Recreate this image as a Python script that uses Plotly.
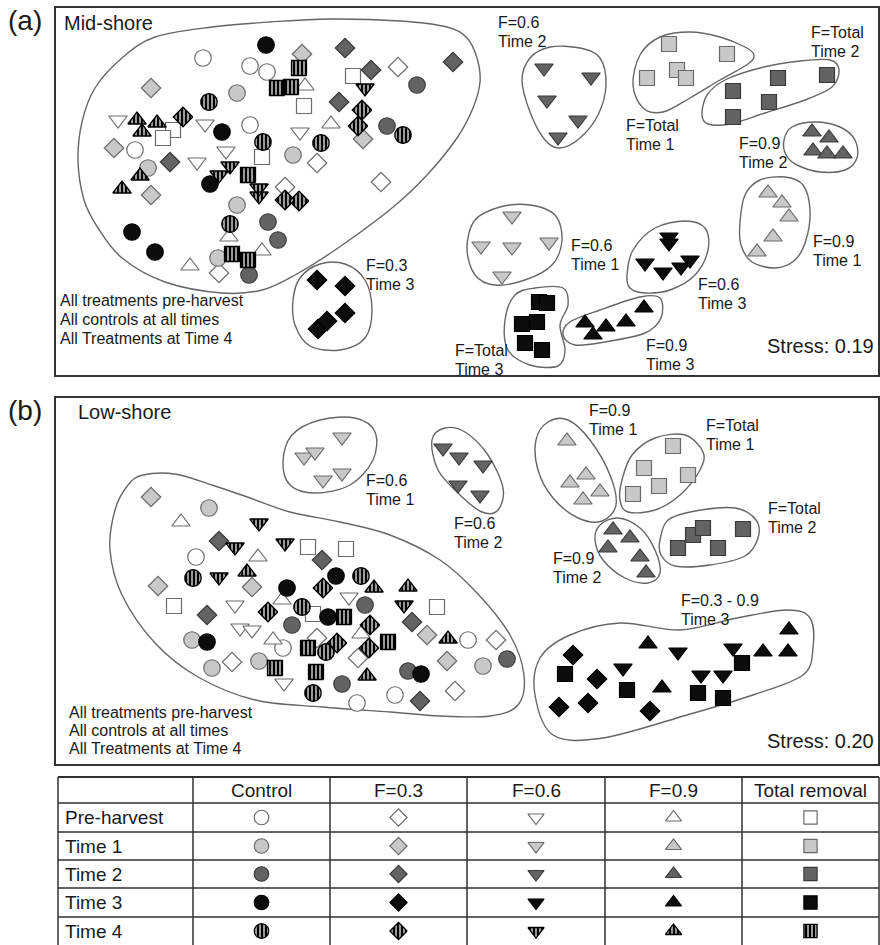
import math
import plotly.graph_objects as go

# ---------------------------------------------------------------------------
# nMDS ordination scores (arbitrary units; axis 2 increases downwards)
# entries: (treatment code, axis-1 score, axis-2 score)
# treatment codes: C = control, F3/F6/F9 = harvest F=0.3/0.6/0.9, FT = total removal
# ---------------------------------------------------------------------------

# (a) Mid-shore
MID_PRE = [
    ("C", 203, 58), ("C", 250, 66), ("C", 267, 72), ("C", 250, 125), ("C", 135, 150),
    ("F3", 398, 67), ("F3", 317, 163), ("F3", 381, 182), ("F3", 285, 187), ("F3", 219, 273),
    ("F6", 118, 120), ("F6", 205, 124), ("F6", 226, 151), ("F6", 197, 162), ("F6", 300, 132),
    ("F9", 305, 86), ("F9", 331, 124), ("F9", 229, 237), ("F9", 190, 266), ("F9", 262, 251),
    ("FT", 173, 130), ("FT", 163, 138), ("FT", 262, 157), ("FT", 304, 106), ("FT", 353, 76),
]
MID_T1 = [
    ("C", 237, 93), ("C", 148, 168), ("C", 293, 155), ("C", 237, 205), ("C", 218, 258),
    ("F3", 151, 88), ("F3", 114, 148), ("F3", 151, 195), ("F3", 302, 54), ("F3", 363, 139),
    ("F6", 512, 216), ("F6", 481, 246), ("F6", 512, 247), ("F6", 549, 242), ("F6", 502, 276),
    ("F9", 768, 193), ("F9", 782, 203), ("F9", 789, 217), ("F9", 773, 237), ("F9", 757, 252),
    ("FT", 669, 44), ("FT", 727, 54), ("FT", 677, 70), ("FT", 686, 78), ("FT", 647, 78),
]
MID_T2 = [
    ("C", 417, 85), ("C", 387, 126), ("C", 268, 222), ("C", 278, 240), ("C", 249, 275),
    ("F3", 345, 48), ("F3", 371, 70), ("F3", 339, 102), ("F3", 453, 62), ("F3", 170, 162),
    ("F6", 544, 68), ("F6", 591, 77), ("F6", 547, 100), ("F6", 578, 120), ("F6", 558, 137),
    ("F9", 812, 132), ("F9", 829, 138), ("F9", 813, 151), ("F9", 827, 154), ("F9", 843, 154),
    ("FT", 733, 91), ("FT", 778, 78), ("FT", 827, 75), ("FT", 769, 102), ("FT", 733, 117),
]
MID_T3 = [
    ("C", 266, 45), ("C", 222, 132), ("C", 210, 184), ("C", 132, 232), ("C", 155, 252),
    ("F3", 317, 280), ("F3", 345, 286), ("F3", 345, 313), ("F3", 318, 329), ("F3", 327, 321),
    ("F6", 669, 237), ("F6", 669, 243), ("F6", 645, 263), ("F6", 663, 272), ("F6", 681, 267),
    ("F6", 690, 260),
    ("F9", 585, 323), ("F9", 593, 335), ("F9", 606, 327), ("F9", 626, 322), ("F9", 644, 308),
    ("FT", 539, 302), ("FT", 547, 303), ("FT", 522, 324), ("FT", 537, 322), ("FT", 525, 343),
    ("FT", 542, 350),
]
MID_T4 = [
    ("C", 209, 102), ("C", 263, 142), ("C", 321, 143), ("C", 403, 135), ("C", 230, 224),
    ("F3", 183, 117), ("F3", 362, 110), ("F3", 358, 126), ("F3", 285, 200), ("F3", 299, 201),
    ("F6", 230, 166), ("F6", 219, 175), ("F6", 259, 188), ("F6", 259, 196), ("F6", 365, 88),
    ("F9", 137, 120), ("F9", 157, 123), ("F9", 142, 132), ("F9", 140, 176), ("F9", 122, 189),
    ("FT", 299, 68), ("FT", 277, 88), ("FT", 291, 87), ("FT", 248, 175), ("FT", 232, 254),
    ("FT", 248, 260),
]

# (b) Low-shore
LOW_PRE = [
    ("C", 196, 557), ("C", 468, 640), ("C", 283, 648), ("C", 357, 703), ("C", 395, 695),
    ("F3", 496, 640), ("F3", 317, 638), ("F3", 358, 658), ("F3", 232, 662), ("F3", 455, 691),
    ("F6", 349, 597), ("F6", 235, 605), ("F6", 240, 628), ("F6", 252, 630), ("F6", 284, 683),
    ("F9", 181, 522), ("F9", 258, 557), ("F9", 282, 600), ("F9", 361, 634), ("F9", 273, 640),
    ("FT", 308, 547), ("FT", 346, 549), ("FT", 174, 606), ("FT", 313, 614), ("FT", 437, 607),
]
LOW_T1 = [
    ("C", 209, 508), ("C", 192, 640), ("C", 212, 668), ("C", 259, 661), ("C", 483, 666),
    ("F3", 151, 497), ("F3", 158, 586), ("F3", 252, 587), ("F3", 427, 635), ("F3", 447, 661),
    ("F6", 342, 437), ("F6", 304, 457), ("F6", 315, 452), ("F6", 323, 480), ("F6", 342, 473),
    ("F9", 567, 441), ("F9", 570, 483), ("F9", 586, 475), ("F9", 600, 492), ("F9", 583, 500),
    ("FT", 673, 446), ("FT", 644, 468), ("FT", 688, 475), ("FT", 659, 486), ("FT", 633, 494),
]
LOW_T2 = [
    ("C", 365, 605), ("C", 292, 625), ("C", 342, 684), ("C", 408, 671), ("C", 507, 659),
    ("F3", 219, 541), ("F3", 322, 560), ("F3", 207, 615), ("F3", 412, 622), ("F3", 420, 701),
    ("F6", 443, 448), ("F6", 459, 457), ("F6", 483, 465), ("F6", 458, 485), ("F6", 480, 495),
    ("F9", 613, 530), ("F9", 630, 538), ("F9", 608, 548), ("F9", 640, 557), ("F9", 646, 573),
    ("FT", 678, 548), ("FT", 693, 535), ("FT", 703, 528), ("FT", 718, 548), ("FT", 743, 529),
]
LOW_T3 = [
    ("C", 287, 588), ("C", 336, 576), ("C", 328, 617), ("C", 207, 642), ("C", 421, 674),
    ("F3", 573, 655), ("F3", 597, 679), ("F3", 559, 707), ("F3", 588, 703), ("F3", 650, 711),
    ("F6", 678, 652), ("F6", 623, 668), ("F6", 701, 675), ("F6", 723, 675), ("F6", 733, 648),
    ("F9", 648, 644), ("F9", 662, 688), ("F9", 763, 652), ("F9", 788, 652), ("F9", 789, 630),
    ("FT", 565, 674), ("FT", 627, 690), ("FT", 698, 693), ("FT", 723, 698), ("FT", 742, 663),
]
LOW_T4 = [
    ("C", 193, 578), ("C", 361, 576), ("C", 302, 607), ("C", 326, 652), ("C", 313, 693),
    ("F3", 323, 588), ("F3", 268, 612), ("F3", 370, 625), ("F3", 337, 643), ("F3", 369, 648),
    ("F6", 259, 523), ("F6", 235, 547), ("F6", 285, 543), ("F6", 219, 577), ("F6", 404, 605),
    ("F9", 247, 572), ("F9", 374, 588), ("F9", 408, 587), ("F9", 448, 639), ("F9", 367, 676),
    ("FT", 344, 617), ("FT", 308, 648), ("FT", 388, 642), ("FT", 275, 668), ("FT", 316, 672),
]

TREATMENTS = ["C", "F3", "F6", "F9", "FT"]
TREATMENT_NAMES = ["Control", "F=0.3", "F=0.6", "F=0.9", "Total removal"]
TIME_NAMES = ["Pre-harvest", "Time 1", "Time 2", "Time 3", "Time 4"]

# Group labels: (line 1, line 2)
MID_GROUP_TEXT = [("F=0.6", "Time 2"), ("F=Total", "Time 1"), ("F=Total", "Time 2"),
                  ("F=0.9", "Time 2"), ("F=0.9", "Time 1"), ("F=0.6", "Time 1"),
                  ("F=0.6", "Time 3"), ("F=0.9", "Time 3"), ("F=Total", "Time 3"),
                  ("F=0.3", "Time 3")]
LOW_GROUP_TEXT = [("F=0.6", "Time 1"), ("F=0.6", "Time 2"), ("F=0.9", "Time 1"),
                  ("F=Total", "Time 1"), ("F=0.9", "Time 2"), ("F=Total", "Time 2"),
                  ("F=0.3 - 0.9", "Time 3")]
STRESS = ["Stress: 0.19", "Stress: 0.20"]
CLUSTER_NOTE = ["All treatments pre-harvest", "All controls at all times",
                "All Treatments at Time 4"]

# ---------------------------------------------------------------------------
# layout / style
# ---------------------------------------------------------------------------
W, H = 880, 945
FONT = "Liberation Sans, Arial, sans-serif"
TXT = "#1a1a1a"

SYMBOL = {"C": "circle", "F3": "diamond", "F6": "triangle-down",
          "F9": "triangle-up", "FT": "square"}
SIZE = {"C": 16.5, "F3": 15, "F6": 16, "F9": 16, "FT": 15}
# fill / outline per sampling time (Time 4 = vertical hatching)
TIME_STYLE = [("#ffffff", "#6c6c6c"), ("#c8c8c8", "#6a6a6a"),
              ("#636363", "#3a3a3a"), ("#0c0c0c", "#000000"), None]

# panel boxes in pixels: (left, top, right, bottom)
BOX_A = (56, 8, 878, 375)
BOX_B = (56, 398, 878, 764)

# label anchors (left x, first-line y)
MID_GROUP_POS = [(497, 22), (625, 125), (810, 32), (738, 143), (812, 241), (570, 245),
                 (697, 284), (645, 345), (454, 350), (365, 265)]
LOW_GROUP_POS = [(365, 480), (453, 523), (588, 410), (705, 425), (552, 558),
                 (767, 508), (680, 600)]

# enclosing outlines (control points for closed smooth curves)
MID_OUTLINES = [
    [(155, 37), (212, 27), (270, 22), (330, 19), (400, 21), (447, 27), (467, 38),
     (477, 58), (480, 82), (473, 108), (457, 138), (427, 175), (392, 208), (338, 248),
     (295, 275), (262, 290), (222, 293), (165, 282), (122, 258), (98, 228), (84, 200),
     (78, 160), (82, 122), (95, 88), (122, 58)],
    [(293, 300), (300, 278), (320, 264), (345, 264), (365, 280), (372, 310),
     (365, 338), (340, 350), (310, 346), (295, 325)],
    [(522, 80), (530, 58), (550, 47), (580, 48), (600, 58), (606, 85), (598, 115),
     (580, 138), (560, 148), (545, 140), (530, 112)],
    [(633, 85), (640, 55), (660, 37), (690, 32), (720, 37), (745, 47), (754, 55),
     (748, 64), (720, 80), (690, 98), (663, 112), (643, 108)],
    [(702, 115), (707, 95), (725, 80), (760, 68), (800, 61), (830, 60), (839, 70),
     (832, 87), (805, 100), (765, 113), (730, 124), (708, 124)],
    [(784, 140), (792, 127), (815, 122), (840, 127), (855, 140), (857, 158),
     (845, 170), (820, 172), (797, 165), (786, 155)],
    [(740, 222), (745, 195), (760, 180), (785, 177), (803, 185), (810, 210),
     (806, 240), (795, 260), (775, 268), (752, 262), (741, 245)],
    [(467, 248), (475, 220), (500, 207), (530, 205), (555, 215), (562, 240),
     (552, 265), (525, 280), (495, 285), (475, 275)],
    [(627, 275), (633, 250), (655, 228), (685, 221), (705, 228), (708, 250),
     (695, 275), (670, 290), (645, 293), (630, 288)],
    [(563, 335), (570, 322), (600, 310), (640, 297), (660, 298), (661, 318),
     (645, 333), (605, 342), (575, 345)],
    [(505, 320), (515, 295), (535, 288), (563, 288), (568, 305), (560, 325),
     (565, 350), (558, 366), (530, 365), (508, 350)],
]
LOW_OUTLINES = [
    [(143, 475), (175, 474), (212, 485), (250, 498), (290, 512), (340, 522),
     (390, 535), (440, 560), (478, 594), (510, 635), (524, 675), (518, 705),
     (490, 716), (440, 716), (390, 712), (322, 707), (255, 700), (198, 677),
     (155, 643), (122, 595), (110, 550), (115, 510), (128, 485)],
    [(283, 462), (292, 435), (320, 420), (355, 418), (375, 432), (373, 460),
     (350, 485), (315, 493), (290, 485)],
    [(432, 440), (445, 428), (465, 432), (488, 455), (503, 488), (498, 510),
     (482, 512), (460, 495), (438, 470)],
    [(536, 440), (548, 422), (568, 420), (590, 440), (610, 475), (616, 505),
     (602, 521), (578, 518), (553, 498), (538, 470)],
    [(622, 480), (632, 455), (655, 438), (685, 435), (703, 452), (700, 470),
     (680, 495), (655, 510), (628, 512), (620, 500)],
    [(595, 540), (600, 525), (618, 518), (640, 528), (655, 550), (660, 573),
     (648, 583), (625, 578), (603, 560)],
    [(660, 540), (668, 520), (695, 511), (735, 508), (756, 520), (758, 538),
     (745, 556), (710, 565), (675, 566), (661, 555)],
    [(535, 695), (540, 658), (570, 635), (620, 623), (680, 630), (737, 618),
     (787, 610), (810, 618), (813, 648), (803, 675), (753, 695), (687, 715),
     (603, 738), (553, 735)],
]

# legend table grid (pixels)
TABLE_COL_EDGES = [58, 193, 330, 467, 605, 742, 879]
TABLE_ROW_EDGES = [777, 803, 832, 860, 888, 917, 945]


def shape_polygon(sym, cx, cy, size):
    """Outline of a marker symbol in pixel units (same geometry as plotly symbols)."""
    r = size / 2.0
    if sym == "circle":
        return [(cx + r * math.cos(2 * math.pi * k / 32), cy + r * math.sin(2 * math.pi * k / 32))
                for k in range(32)]
    if sym == "diamond":
        d = 1.3 * r
        return [(cx + d, cy), (cx, cy + d), (cx - d, cy), (cx, cy - d)]
    if sym == "square":
        return [(cx + r, cy + r), (cx - r, cy + r), (cx - r, cy - r), (cx + r, cy - r)]
    rt = 2 * r / math.sqrt(3)
    if sym == "triangle-up":
        return [(cx - rt, cy + r / 2), (cx + rt, cy + r / 2), (cx, cy - r)]
    return [(cx - rt, cy - r / 2), (cx + rt, cy - r / 2), (cx, cy + r)]


def hatched_trace(points, xa, ya, scale=1.0):
    xs, ys = [], []
    for code, x, y in points:
        poly = shape_polygon(SYMBOL[code], x, y, SIZE[code] * scale)
        xs += [p[0] for p in poly] + [poly[0][0], None]
        ys += [p[1] for p in poly] + [poly[0][1], None]
    return go.Scatter(
        x=xs, y=ys, xaxis=xa, yaxis=ya, mode="lines", fill="toself",
        fillpattern=dict(shape="|", fgcolor="#000000", bgcolor="#ffffff",
                         fgopacity=1, size=4, solidity=0.7),
        line=dict(color="#000000", width=1.3),
        hoverinfo="skip", showlegend=False)


def solid_trace(points, time_idx, xa, ya, scale=1.0):
    fill, edge = TIME_STYLE[time_idx]
    return go.Scatter(
        x=[p[1] for p in points], y=[p[2] for p in points], xaxis=xa, yaxis=ya,
        mode="markers",
        marker=dict(symbol=[SYMBOL[p[0]] for p in points],
                    size=[SIZE[p[0]] * scale for p in points],
                    color=fill, opacity=1, line=dict(color=edge, width=1.2)),
        hoverinfo="skip", showlegend=False)


def smooth_closed_path(pts):
    n = len(pts)
    d = "M {:.1f},{:.1f}".format(*pts[0])
    for i in range(n):
        p0, p1 = pts[(i - 1) % n], pts[i]
        p2, p3 = pts[(i + 1) % n], pts[(i + 2) % n]
        c1 = (p1[0] + (p2[0] - p0[0]) / 6, p1[1] + (p2[1] - p0[1]) / 6)
        c2 = (p2[0] - (p3[0] - p1[0]) / 6, p2[1] - (p3[1] - p1[1]) / 6)
        d += " C {:.1f},{:.1f} {:.1f},{:.1f} {:.1f},{:.1f}".format(*c1, *c2, *p2)
    return d + " Z"


fig = go.Figure()

panels = [
    ([MID_PRE, MID_T1, MID_T2, MID_T3, MID_T4], "x", "y"),
    ([LOW_PRE, LOW_T1, LOW_T2, LOW_T3, LOW_T4], "x2", "y2"),
]
for groups, xa, ya in panels:
    for t, pts in enumerate(groups):
        if TIME_STYLE[t] is None:
            fig.add_trace(hatched_trace(pts, xa, ya))
        else:
            fig.add_trace(solid_trace(pts, t, xa, ya))

shapes = []
for outlines, xr, yr in [(MID_OUTLINES, "x", "y"), (LOW_OUTLINES, "x2", "y2")]:
    for pts in outlines:
        shapes.append(dict(type="path", path=smooth_closed_path(pts), xref=xr, yref=yr,
                           line=dict(color="#666666", width=1.4), layer="below"))

annotations = []


def add_text(text, x, y, xr, yr, size, xanchor="left"):
    annotations.append(dict(text=text, x=x, y=y, xref=xr, yref=yr, showarrow=False,
                            xanchor=xanchor, yanchor="middle",
                            font=dict(family=FONT, size=size, color=TXT)))


for texts, pos, xr, yr in [(MID_GROUP_TEXT, MID_GROUP_POS, "x", "y"),
                           (LOW_GROUP_TEXT, LOW_GROUP_POS, "x2", "y2")]:
    for (l1, l2), (x, y) in zip(texts, pos):
        add_text(l1, x - 1, y, xr, yr, 16)
        add_text(l2, x - 1, y + 19, xr, yr, 16)

add_text("Mid-shore", 62, 23, "x", "y", 20)
add_text("Low-shore", 76, 412, "x2", "y2", 20)
for i, line in enumerate(CLUSTER_NOTE):
    add_text(line, 58, 300 + 19 * i, "x", "y", 16)
    add_text(line, 67, 712 + 18 * i, "x2", "y2", 16)
add_text(STRESS[0], 876, 346, "x", "y", 20, xanchor="right")
add_text(STRESS[1], 876, 741, "x2", "y2", 20, xanchor="right")

# panel letters
for letter, y in [("(a)", 20), ("(b)", 410)]:
    annotations.append(dict(text=letter, x=25 / W, y=1 - y / H, xref="paper", yref="paper",
                            showarrow=False, xanchor="center", yanchor="middle",
                            font=dict(family=FONT, size=28, color=TXT)))

# ---------------------------------------------------------------------------
# legend table
# ---------------------------------------------------------------------------
col_c = [(a + b) / 2 for a, b in zip(TABLE_COL_EDGES[:-1], TABLE_COL_EDGES[1:])]
row_c = [(a + b) / 2 for a, b in zip(TABLE_ROW_EDGES[:-1], TABLE_ROW_EDGES[1:])]
x0, x1 = TABLE_COL_EDGES[0], TABLE_COL_EDGES[-1]
y0, y1 = TABLE_ROW_EDGES[0], TABLE_ROW_EDGES[-1]
for i, yy in enumerate(TABLE_ROW_EDGES[:-1]):
    shapes.append(dict(type="line", x0=x0, x1=x1, y0=yy, y1=yy, xref="x3", yref="y3",
                       line=dict(color="#303030", width=2 if i == 0 else 1.5)))
for xx in TABLE_COL_EDGES:
    shapes.append(dict(type="line", x0=xx, x1=xx, y0=y0, y1=y1, xref="x3", yref="y3",
                       line=dict(color="#303030", width=1.5)))

for j, name in enumerate(TREATMENT_NAMES):
    add_text(name, col_c[j + 1], row_c[0], "x3", "y3", 19, xanchor="center")
for i, name in enumerate(TIME_NAMES):
    add_text(name, x0 + 5, row_c[i + 1], "x3", "y3", 19)
    legend_pts = [(code, col_c[j + 1], row_c[i + 1]) for j, code in enumerate(TREATMENTS)]
    if TIME_STYLE[i] is None:
        fig.add_trace(hatched_trace(legend_pts, "x3", "y3", scale=0.88))
    else:
        fig.add_trace(solid_trace(legend_pts, i, "x3", "y3", scale=0.88))

# ---------------------------------------------------------------------------
# axes: 1 axis unit = 1 pixel in every panel
# ---------------------------------------------------------------------------
box_axis = dict(showgrid=False, zeroline=False, showticklabels=False, ticks="",
                showline=True, mirror=True, linecolor="#333333", linewidth=2.2)
plain_axis = dict(showgrid=False, zeroline=False, showticklabels=False, ticks="",
                  showline=False)


def xdom(box):
    return [box[0] / W, box[2] / W]


def ydom(box):
    return [1 - box[3] / H, 1 - box[1] / H]


fig.update_layout(
    width=W, height=H,
    margin=dict(l=0, r=0, t=0, b=0),
    paper_bgcolor="white", plot_bgcolor="rgba(0,0,0,0)",
    showlegend=False,
    xaxis=dict(domain=xdom(BOX_A), range=[BOX_A[0], BOX_A[2]], anchor="y", **box_axis),
    yaxis=dict(domain=ydom(BOX_A), range=[BOX_A[3], BOX_A[1]], anchor="x", **box_axis),
    xaxis2=dict(domain=xdom(BOX_B), range=[BOX_B[0], BOX_B[2]], anchor="y2", **box_axis),
    yaxis2=dict(domain=ydom(BOX_B), range=[BOX_B[3], BOX_B[1]], anchor="x2", **box_axis),
    xaxis3=dict(domain=[0, 1], range=[0, W], anchor="y3", **plain_axis),
    yaxis3=dict(domain=[0, (H - 770) / H], range=[H, 770], anchor="x3", **plain_axis),
    shapes=shapes,
    annotations=annotations,
)

fig.write_html("out.html")
